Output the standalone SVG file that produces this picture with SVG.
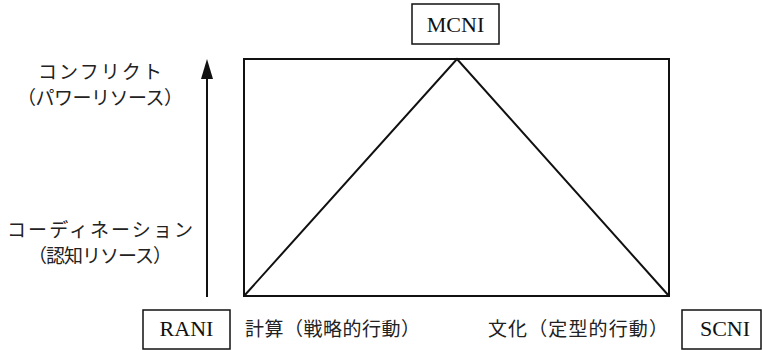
<svg xmlns="http://www.w3.org/2000/svg" width="762" height="350" viewBox="0 0 762 350">
<style>
.box{fill:#fff;stroke:#111;stroke-width:1.5}
.ln{fill:none;stroke:#111;stroke-width:2}
.lat{font-family:"Liberation Serif","Times New Roman",serif;font-size:22px;fill:#111;text-anchor:middle}
.jp{font-family:"Liberation Serif","Noto Sans CJK JP",sans-serif;font-size:19px;fill:#222}
</style>
<rect width="762" height="350" fill="#fff"/>
<g id="connectors">
<rect class="ln" x="244" y="59" width="425" height="237"/>
<polyline class="ln" points="244,296 457,59 669,296"/>
<line class="ln" x1="207" y1="297" x2="207" y2="78"/>
<path d="M201,79 L207,59 L213,79 Z" fill="#111"/>
</g>
<g id="MCNI">
<rect class="box" x="412" y="4" width="87" height="40"/>
<text class="lat" x="455.5" y="32">MCNI</text>
</g>
<g id="RANI">
<rect class="box" x="143" y="310" width="87" height="39"/>
<text class="lat" x="186.5" y="336">RANI</text>
</g>
<g id="SCNI">
<rect class="box" x="682" y="310" width="79" height="39"/>
<text class="lat" x="725" y="336">SCNI</text>
</g>
<g id="labels">
<text class="jp" x="100" y="79" text-anchor="middle" textLength="124" lengthAdjust="spacing">コンフリクト</text>
<text class="jp" x="100" y="105" text-anchor="middle" textLength="166" lengthAdjust="spacing">（パワーリソース）</text>
<text class="jp" x="100" y="237" text-anchor="middle" textLength="186" lengthAdjust="spacing">コーディネーション</text>
<text class="jp" x="100" y="263" text-anchor="middle" textLength="144" lengthAdjust="spacing">（認知リソース）</text>
<text class="jp" x="245" y="336" font-size="19.5" textLength="175" lengthAdjust="spacing">計算（戦略的行動）</text>
<text class="jp" x="488" y="336" font-size="19.5" textLength="180" lengthAdjust="spacing">文化（定型的行動）</text>
</g>
</svg>
